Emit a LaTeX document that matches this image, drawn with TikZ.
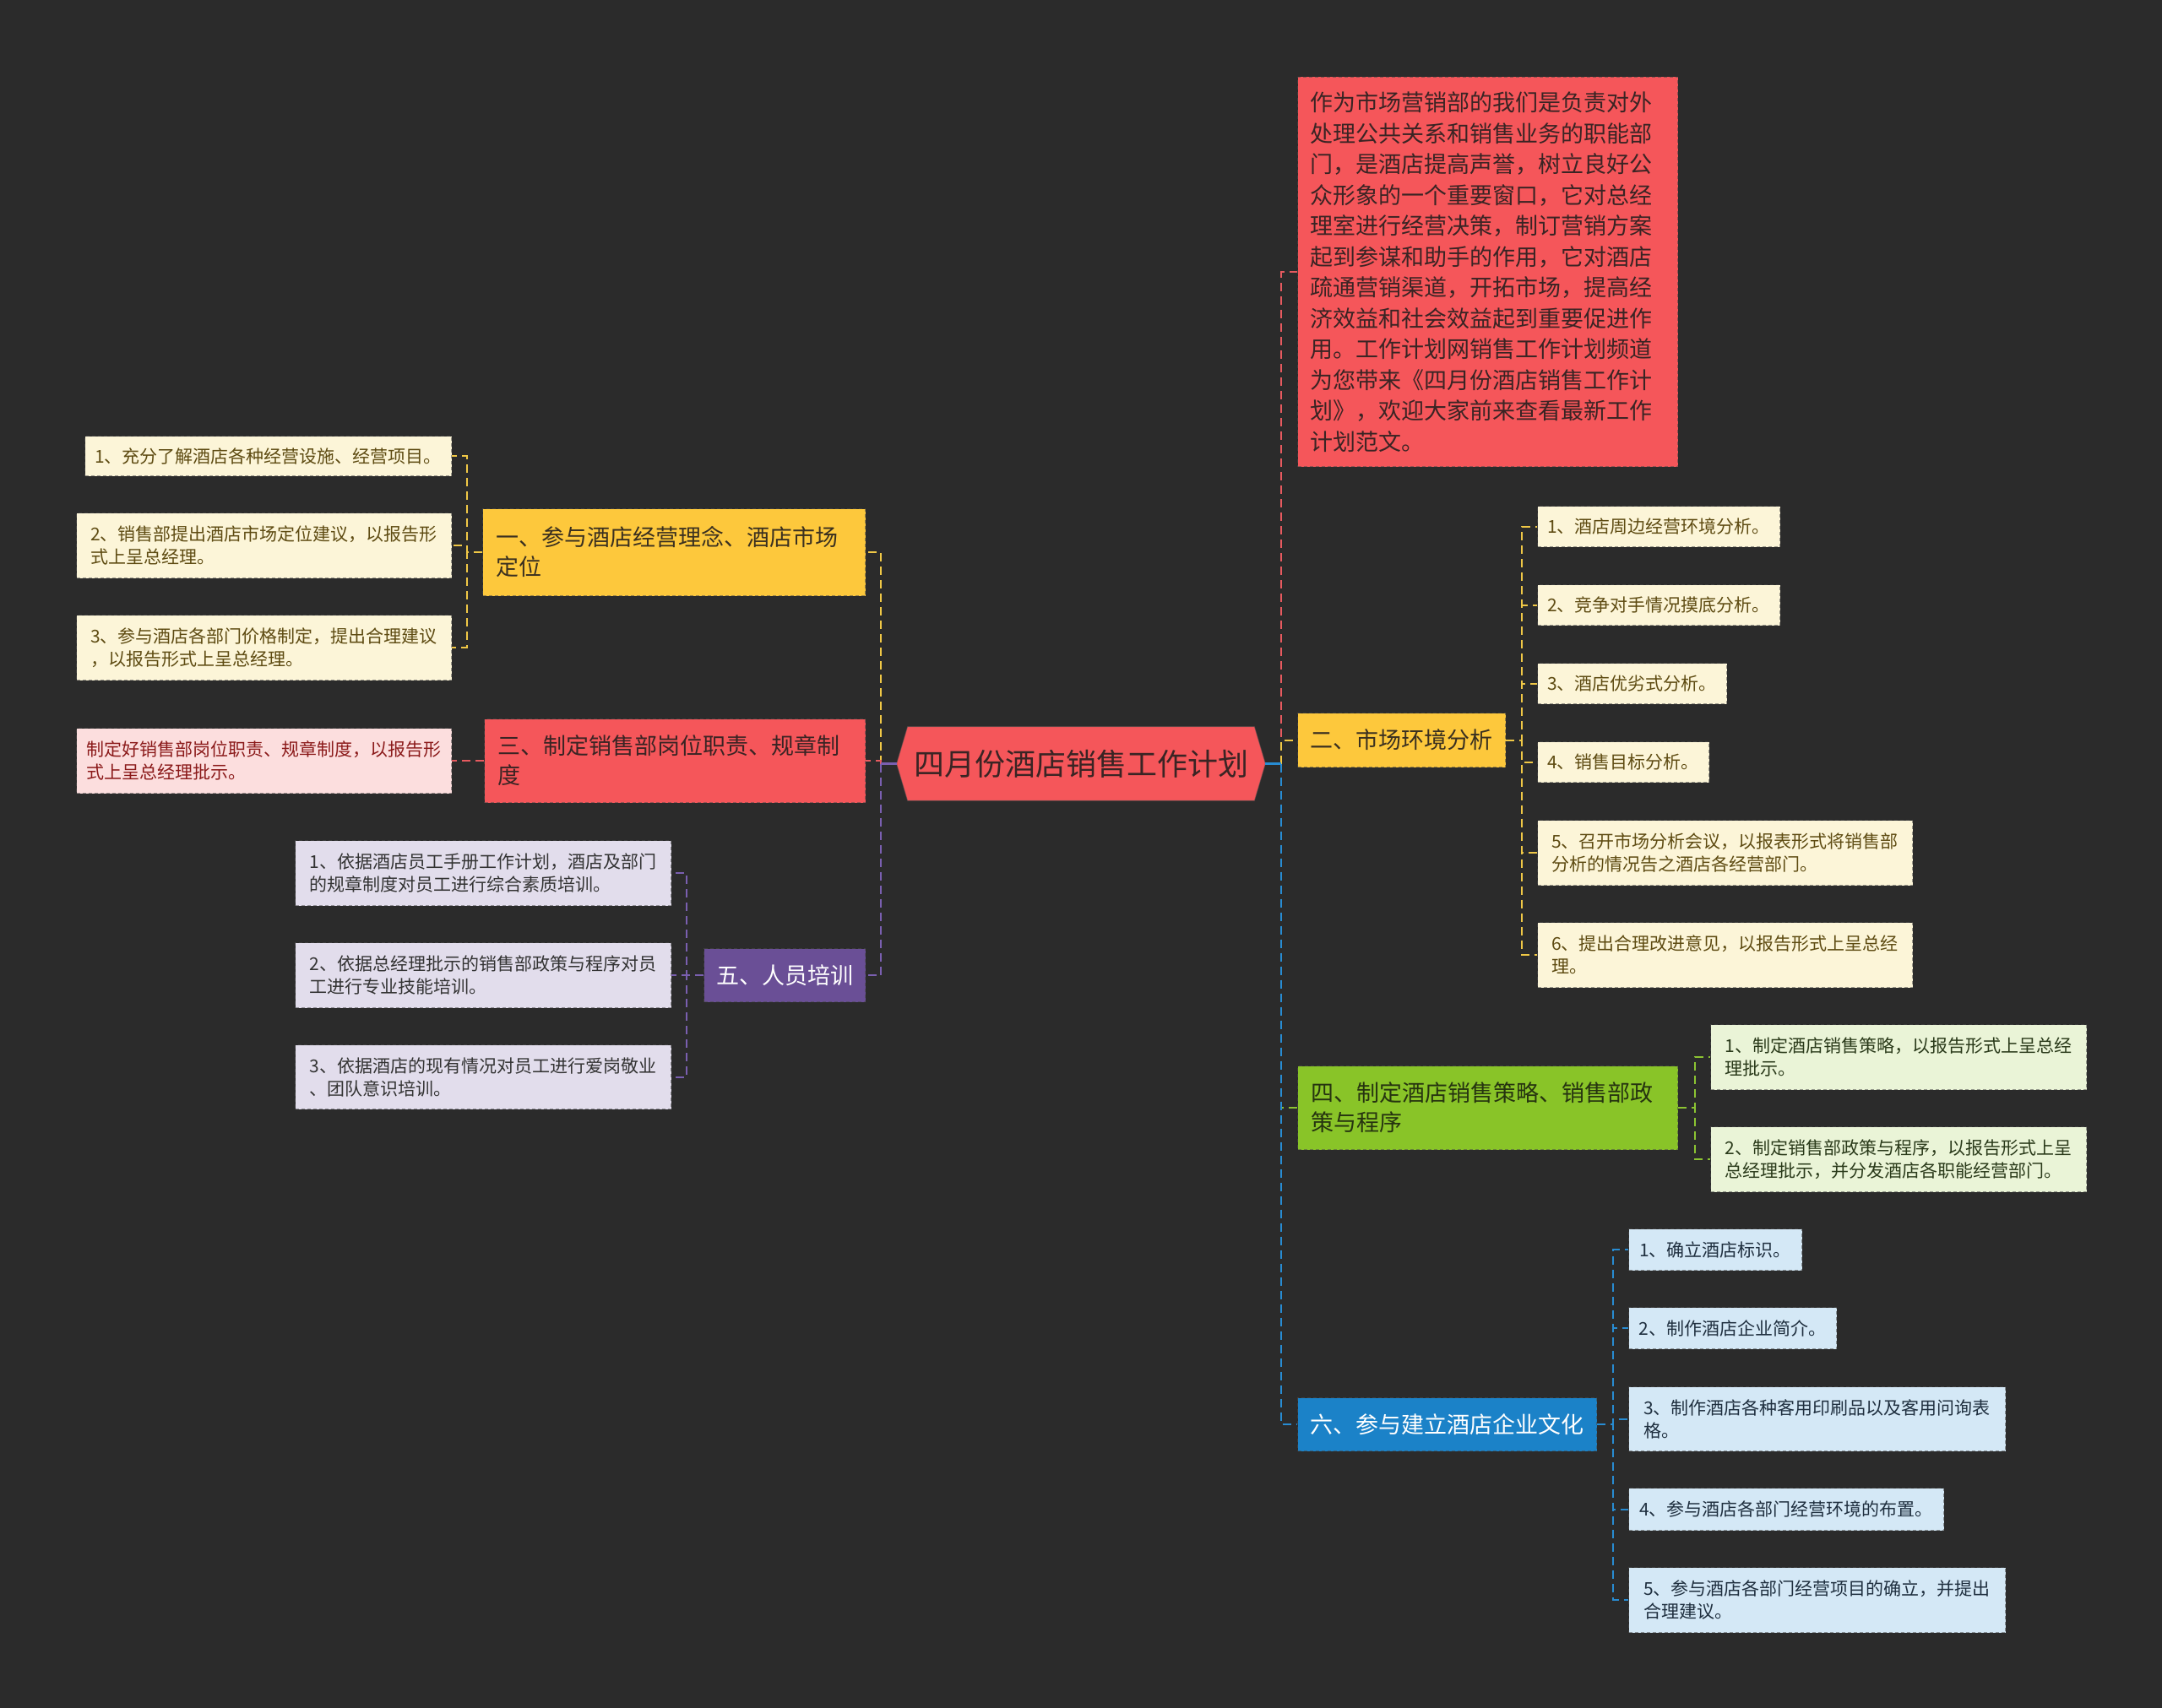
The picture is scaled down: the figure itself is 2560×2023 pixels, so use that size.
\documentclass[tikz,border=0pt]{standalone}
\usepackage{fontspec}
\newfontfamily\cjk{Noto Sans CJK SC}
\usetikzlibrary{calc,backgrounds}
\definecolor{bgc}{HTML}{2B2B2B}
\definecolor{redf}{HTML}{F5565A}
\definecolor{redt}{HTML}{3A2424}
\definecolor{yelf}{HTML}{FDC83C}
\definecolor{yelt}{HTML}{3A3020}
\definecolor{grnf}{HTML}{89C428}
\definecolor{grnt}{HTML}{263410}
\definecolor{purf}{HTML}{6A4F96}
\definecolor{bluf}{HTML}{1B82C8}
\definecolor{lyf}{HTML}{FCF5D8}
\definecolor{lyt}{HTML}{5E4B12}
\definecolor{lrf}{HTML}{FCDEDE}
\definecolor{lrt}{HTML}{8B1A1A}
\definecolor{lpf}{HTML}{E2DDEC}
\definecolor{lpt}{HTML}{333333}
\definecolor{lgf}{HTML}{EAF4D7}
\definecolor{lgt}{HTML}{2A3A1A}
\definecolor{lbf}{HTML}{D4E8F6}
\definecolor{lbt}{HTML}{1F2F3F}
\definecolor{cY}{HTML}{F0C846}
\definecolor{cR}{HTML}{E65A5F}
\definecolor{cP}{HTML}{7A5FB0}
\definecolor{cG}{HTML}{8CC432}
\definecolor{cB}{HTML}{288CD2}
\tikzset{
  wh/.style 2 args={minimum width=#1*0.5pt, minimum height=#2*0.5pt},
  boxbase/.style={anchor=north west, inner sep=0pt, align=left,
    draw=black!70, draw opacity=0.55, line width=0.5pt, dash pattern=on 2pt off 1.5pt},
  leafbox/.style={boxbase, font=\cjk\fontsize{10.5pt}{13.5pt}\selectfont},
  branchbox/.style={boxbase, font=\cjk\fontsize{13.5pt}{17.5pt}\selectfont},
  leafY/.style={leafbox, fill=lyf, text=lyt},
  leafR/.style={leafbox, fill=lrf, text=lrt},
  leafP/.style={leafbox, fill=lpf, text=lpt},
  leafG/.style={leafbox, fill=lgf, text=lgt},
  leafB/.style={leafbox, fill=lbf, text=lbt},
  brY/.style={branchbox, fill=yelf, text=yelt},
  brR/.style={branchbox, fill=redf, text=redt},
  brP/.style={branchbox, fill=purf, text=white},
  brG/.style={branchbox, fill=grnf, text=grnt},
  brB/.style={branchbox, fill=bluf, text=white},
  conn/.style={line width=1pt, dash pattern=on 5pt off 3pt},
  connY/.style={conn, draw=cY},
  connR/.style={conn, draw=cR},
  connP/.style={conn, draw=cP},
  connG/.style={conn, draw=cG},
  connB/.style={conn, draw=cB},
  stub/.style={line width=1.2pt},
}
\begin{document}
\begin{tikzpicture}[x=0.5pt,y=-0.5pt]
\useasboundingbox (0,0) rectangle (2560,2023);
\begin{scope}[on background layer]
  \fill[bgc] (0,0) rectangle (2560,2023);
\end{scope}

% central node
\node[inner sep=0pt, wh={436}{87}, text=redt, font=\cjk\fontsize{18pt}{22pt}\selectfont] (c) at (1280,904.5) {四月份酒店销售工作计划};
\begin{scope}[on background layer]
  \fill[redf, draw=black!70, draw opacity=0.5, line width=0.5pt]
    (c.west) -- ($(c.north west)+(13,0)$) -- ($(c.north east)+(-13,0)$) -- (c.east)
    -- ($(c.south east)+(-13,0)$) -- ($(c.south west)+(13,0)$) -- cycle;
\end{scope}

% ---------- left side ----------
\node[brY, wh={453}{103}, inner xsep=8pt, text width=210.5pt] (a) at (571,602) {一、参与酒店经营理念、酒店市场\\定位};
\node[leafY, wh={434}{47}] (a1) at (100,516) {1、充分了解酒店各种经营设施、经营项目。};
\node[leafY, wh={444}{77}] (a2) at (90,607) {2、销售部提出酒店市场定位建议，以报告形\\式上呈总经理。};
\node[leafY, wh={444}{77}] (a3) at (90,728) {3、参与酒店各部门价格制定，提出合理建议\\，以报告形式上呈总经理。};

\node[brR, wh={451}{99}, inner xsep=8pt, text width=209.5pt] (b) at (573,851) {三、制定销售部岗位职责、规章制\\度};
\node[leafR, wh={444}{77}] (b1) at (90,862) {制定好销售部岗位职责、规章制度，以报告形\\式上呈总经理批示。};

\node[brP, wh={191}{63}] (e) at (833,1123) {五、人员培训};
\node[leafP, wh={445}{77}] (e1) at (349,995) {1、依据酒店员工手册工作计划，酒店及部门\\的规章制度对员工进行综合素质培训。};
\node[leafP, wh={445}{77}] (e2) at (349,1116) {2、依据总经理批示的销售部政策与程序对员\\工进行专业技能培训。};
\node[leafP, wh={445}{76}] (e3) at (349,1237) {3、依据酒店的现有情况对员工进行爱岗敬业\\、团队意识培训。};

% ---------- right side ----------
\node[boxbase, fill=redf, text=redt, wh={450}{461}, inner xsep=7.5pt, text width=210pt, font=\cjk\fontsize{13.5pt}{18.25pt}\selectfont] (intro) at (1536,91)
 {作为市场营销部的我们是负责对外\\处理公共关系和销售业务的职能部\\门，是酒店提高声誉，树立良好公\\众形象的一个重要窗口，它对总经\\理室进行经营决策，制订营销方案\\起到参谋和助手的作用，它对酒店\\疏通营销渠道，开拓市场，提高经\\济效益和社会效益起到重要促进作\\用。工作计划网销售工作计划频道\\为您带来《四月份酒店销售工作计\\划》，欢迎大家前来查看最新工作\\计划范文。};

\node[brY, wh={246}{64}] (d) at (1536,844) {二、市场环境分析};
\node[leafY, wh={287}{48}] (d1) at (1820,599) {1、酒店周边经营环境分析。};
\node[leafY, wh={287}{48}] (d2) at (1820,692) {2、竞争对手情况摸底分析。};
\node[leafY, wh={224}{48}] (d3) at (1820,785) {3、酒店优劣式分析。};
\node[leafY, wh={203}{48}] (d4) at (1820,878) {4、销售目标分析。};
\node[leafY, wh={444}{77}] (d5) at (1820,971) {5、召开市场分析会议，以报表形式将销售部\\分析的情况告之酒店各经营部门。};
\node[leafY, wh={444}{77}] (d6) at (1820,1092) {6、提出合理改进意见，以报告形式上呈总经\\理。};

\node[brG, wh={450}{99}, inner xsep=8pt, text width=209pt] (f) at (1536,1262) {四、制定酒店销售策略、销售部政\\策与程序};
\node[leafG, wh={445}{77}] (f1) at (2025,1213) {1、制定酒店销售策略，以报告形式上呈总经\\理批示。};
\node[leafG, wh={445}{77}] (f2) at (2025,1334) {2、制定销售部政策与程序，以报告形式上呈\\总经理批示，并分发酒店各职能经营部门。};

\node[brB, wh={354}{63}] (g) at (1536,1655) {六、参与建立酒店企业文化};
\node[leafB, wh={205}{49}] (g1) at (1928,1455) {1、确立酒店标识。};
\node[leafB, wh={246}{49}] (g2) at (1928,1548) {2、制作酒店企业简介。};
\node[leafB, wh={446}{76}] (g3) at (1928,1642) {3、制作酒店各种客用印刷品以及客用问询表\\格。};
\node[leafB, wh={373}{50}] (g4) at (1928,1762) {4、参与酒店各部门经营环境的布置。};
\node[leafB, wh={446}{77}] (g5) at (1928,1856) {5、参与酒店各部门经营项目的确立，并提出\\合理建议。};

% ---------- trunk connectors ----------
\coordinate (cL) at (1043,904.5);
\coordinate (cRt) at (1517,904.5);
\draw[connY] (cL) |- (a.east);
\draw[connR] (cL) |- (b.east);
\draw[connP] (cL) |- (e.east);
\draw[stub, cP] (c.west) -- (cL);

\draw[connR] (cRt) |- (intro.west);
\draw[connY] (cRt) |- (d.west);
\draw[connG] (cRt) |- (f.west);
\draw[connB] (cRt) |- (g.west);
\draw[stub, cB] (c.east) -- (cRt);

% ---------- sub connectors ----------
\foreach \k in {a1,a2,a3} \draw[connY] (a.west) -- ++(-18,0) |- (\k.east);
\draw[connR] (b.west) -- (b1.east);
\foreach \k in {e1,e2,e3} \draw[connP] (e.west) -- ++(-20,0) |- (\k.east);
\foreach \k in {d1,d2,d3,d4,d5,d6} \draw[connY] (d.east) -- ++(19,0) |- (\k.west);
\foreach \k in {f1,f2} \draw[connG] (f.east) -- ++(20,0) |- (\k.west);
\foreach \k in {g1,g2,g3,g4,g5} \draw[connB] (g.east) -- ++(19,0) |- (\k.west);
\end{tikzpicture}
\end{document}
